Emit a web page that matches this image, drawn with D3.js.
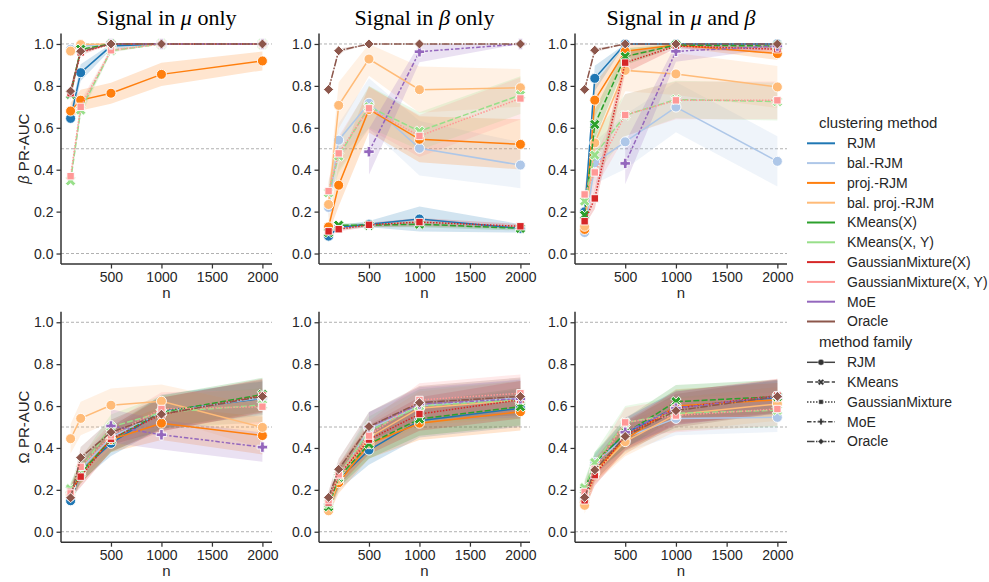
<!DOCTYPE html>
<html>
<head>
<meta charset="utf-8">
<script src="https://cdn.jsdelivr.net/npm/d3@7"></script>
<style>
  body { margin: 0; background: #fff; }
  text { font-family: "Liberation Sans", Arial, sans-serif; fill: #262626; }
</style>
</head>
<body>
<svg id="chart" width="989" height="582"></svg>
<script>
// ---- data ----
const nValues = [100, 200, 500, 1000, 2000];
const methods = ["RJM", "bal.-RJM", "proj.-RJM", "bal. proj.-RJM", "KMeans(X)", "KMeans(X, Y)",
                 "GaussianMixture(X)", "GaussianMixture(X, Y)", "MoE", "Oracle"];
const methodColors = ["#1f77b4", "#aec7e8", "#ff7f0e", "#ffbb78", "#2ca02c", "#98df8a",
                      "#d62728", "#ff9896", "#9467bd", "#8c564b"];
const methodFamily = ["RJM", "RJM", "RJM", "RJM", "KMeans", "KMeans",
                      "GaussianMixture", "GaussianMixture", "MoE", "Oracle"];
const families = ["RJM", "KMeans", "GaussianMixture", "MoE", "Oracle"];
const yTicks = [0, 0.2, 0.4, 0.6, 0.8, 1.0];
const xTicks = [500, 1000, 1500, 2000];
const refLines = [0, 0.5, 1.0];

// beta PR-AUC, signal in mu only (rows follow `methods`, columns follow `nValues`)
const betaMuOnly = [
  [0.645, 0.863, 0.99, 1.0, 1.0],
  [0.975, 0.99, 1.0, 1.0, 1.0],
  [0.68, 0.732, 0.765, 0.855, 0.919],
  [0.966, 0.997, 1.0, 1.0, 1.0],
  [0.76, 0.975, 1.0, 1.0, 1.0],
  [0.347, 0.685, 0.968, 1.0, 1.0],
  [0.765, 0.96, 1.0, 1.0, 1.0],
  [0.369, 0.70, 0.97, 1.0, 1.0],
  [null, null, 1.0, 1.0, 1.0],
  [0.775, 0.965, 1.0, 1.0, 1.0]
];
const betaMuOnlyCI = [
  [0.03, 0.04, 0.015, 0, 0],
  [0.02, 0.01, 0, 0, 0],
  [0.04, 0.05, 0.05, 0.055, 0.045],
  [0.02, 0.005, 0, 0, 0],
  [0.03, 0.01, 0, 0, 0],
  [0.02, 0.03, 0.01, 0, 0],
  [0.03, 0.015, 0, 0, 0],
  [0.02, 0.03, 0.01, 0, 0],
  [0, 0, 0, 0, 0],
  [0.02, 0.01, 0, 0, 0]
];

// beta PR-AUC, signal in beta only
const betaBetaOnly = [
  [0.083, 0.125, 0.14, 0.165, 0.12],
  [0.22, 0.541, 0.717, 0.502, 0.422],
  [0.127, 0.326, 0.688, 0.545, 0.521],
  [0.234, 0.707, 0.928, 0.782, 0.791],
  [0.10, 0.135, 0.135, 0.14, 0.12],
  [0.29, 0.465, 0.70, 0.584, 0.756],
  [0.106, 0.116, 0.137, 0.15, 0.13],
  [0.298, 0.478, 0.693, 0.561, 0.74],
  [null, null, 0.486, 0.963, 1.0],
  [0.783, 0.968, 1.0, 1.0, 1.0]
];
const betaBetaOnlyCI = [
  [0.01, 0.01, 0.015, 0.06, 0.02],
  [0.06, 0.08, 0.12, 0.13, 0.11],
  [0.03, 0.10, 0.11, 0.11, 0.12],
  [0.07, 0.11, 0.08, 0.11, 0.09],
  [0.01, 0.01, 0.01, 0.015, 0.01],
  [0.05, 0.08, 0.10, 0.09, 0.09],
  [0.01, 0.01, 0.01, 0.02, 0.01],
  [0.05, 0.08, 0.10, 0.10, 0.10],
  [0, 0, 0.11, 0.05, 0],
  [0.01, 0.01, 0, 0, 0]
];

// beta PR-AUC, signal in mu and beta
const betaBoth = [
  [0.199, 0.836, 1.0, 1.0, 1.0],
  [0.10, 0.433, 0.533, 0.699, 0.44],
  [0.115, 0.732, 0.965, 0.995, 0.954],
  [0.13, 0.528, 0.874, 0.857, 0.795],
  [0.183, 0.616, 0.94, 0.995, 0.99],
  [0.25, 0.47, 0.66, 0.735, 0.725],
  [0.154, 0.263, 0.911, 0.99, 0.975],
  [0.282, 0.387, 0.661, 0.731, 0.731],
  [null, null, 0.43, 0.965, 0.99],
  [0.783, 0.97, 1.0, 1.0, 1.0]
];
const betaBothCI = [
  [0.03, 0.06, 0, 0, 0],
  [0.02, 0.10, 0.13, 0.12, 0.12],
  [0.02, 0.08, 0.03, 0.01, 0.03],
  [0.03, 0.10, 0.10, 0.10, 0.10],
  [0.03, 0.07, 0.04, 0.01, 0.01],
  [0.05, 0.10, 0.10, 0.09, 0.09],
  [0.02, 0.05, 0.05, 0.01, 0.02],
  [0.05, 0.08, 0.10, 0.09, 0.09],
  [0, 0, 0.10, 0.05, 0.01],
  [0.01, 0.01, 0, 0, 0]
];

// Omega PR-AUC, signal in mu only
const omegaMuOnly = [
  [0.148, 0.29, 0.422, 0.575, 0.637],
  [0.17, 0.30, 0.45, 0.57, 0.64],
  [0.18, 0.28, 0.44, 0.518, 0.459],
  [0.444, 0.541, 0.604, 0.623, 0.498],
  [0.20, 0.28, 0.44, 0.57, 0.655],
  [0.205, 0.30, 0.50, 0.57, 0.605],
  [0.19, 0.263, 0.443, 0.56, 0.65],
  [0.183, 0.31, 0.46, 0.586, 0.597],
  [null, null, 0.505, 0.463, 0.404],
  [0.162, 0.354, 0.475, 0.561, 0.646]
];
const omegaMuOnlyCI = [
  [0.03, 0.05, 0.06, 0.08, 0.08],
  [0.03, 0.05, 0.06, 0.08, 0.08],
  [0.03, 0.05, 0.06, 0.08, 0.09],
  [0.07, 0.08, 0.08, 0.08, 0.10],
  [0.03, 0.05, 0.06, 0.08, 0.08],
  [0.03, 0.05, 0.06, 0.08, 0.08],
  [0.03, 0.05, 0.06, 0.08, 0.08],
  [0.03, 0.05, 0.06, 0.08, 0.08],
  [0, 0, 0.08, 0.07, 0.07],
  [0.03, 0.05, 0.06, 0.08, 0.08]
];

// Omega PR-AUC, signal in beta only
const omegaBetaOnly = [
  [0.12, 0.25, 0.39, 0.53, 0.59],
  [0.12, 0.26, 0.49, 0.60, 0.64],
  [0.11, 0.234, 0.42, 0.518, 0.573],
  [0.10, 0.25, 0.45, 0.59, 0.63],
  [0.12, 0.26, 0.419, 0.538, 0.597],
  [0.135, 0.27, 0.48, 0.60, 0.63],
  [0.14, 0.27, 0.44, 0.562, 0.63],
  [0.15, 0.274, 0.459, 0.629, 0.661],
  [null, null, 0.50, 0.61, 0.635],
  [0.164, 0.298, 0.502, 0.616, 0.646]
];
const omegaBetaOnlyCI = [
  [0.03, 0.05, 0.07, 0.08, 0.09],
  [0.03, 0.05, 0.08, 0.08, 0.09],
  [0.03, 0.05, 0.07, 0.08, 0.09],
  [0.03, 0.05, 0.07, 0.08, 0.09],
  [0.03, 0.05, 0.07, 0.08, 0.09],
  [0.03, 0.05, 0.07, 0.08, 0.09],
  [0.03, 0.05, 0.07, 0.08, 0.09],
  [0.03, 0.05, 0.07, 0.08, 0.09],
  [0, 0, 0.07, 0.08, 0.09],
  [0.03, 0.05, 0.07, 0.08, 0.09]
];

// Omega PR-AUC, signal in mu and beta
const omegaBoth = [
  [0.16, 0.32, 0.47, 0.595, 0.64],
  [0.15, 0.33, 0.45, 0.541, 0.546],
  [0.14, 0.29, 0.44, 0.60, 0.63],
  [0.126, 0.28, 0.43, 0.56, 0.61],
  [0.20, 0.33, 0.47, 0.621, 0.645],
  [0.21, 0.33, 0.52, 0.565, 0.58],
  [0.15, 0.27, 0.46, 0.59, 0.65],
  [0.19, 0.30, 0.522, 0.555, 0.586],
  [null, null, 0.475, 0.59, 0.645],
  [0.164, 0.295, 0.455, 0.578, 0.646]
];
const omegaBothCI = [
  [0.04, 0.05, 0.07, 0.08, 0.08],
  [0.04, 0.05, 0.07, 0.08, 0.07],
  [0.04, 0.05, 0.07, 0.08, 0.08],
  [0.04, 0.05, 0.07, 0.08, 0.08],
  [0.04, 0.05, 0.07, 0.08, 0.08],
  [0.04, 0.05, 0.08, 0.08, 0.08],
  [0.04, 0.05, 0.07, 0.08, 0.08],
  [0.04, 0.05, 0.07, 0.08, 0.08],
  [0, 0, 0.07, 0.08, 0.08],
  [0.04, 0.05, 0.07, 0.08, 0.08]
];

// ---- layout ----
const svg = d3.select("#chart");
const columns = [[61, 272], [319, 530], [575, 787]];
const rows = [[264, 33.5], [542.2, 311.8]];
const titles = [
  [{t: "Signal in "}, {t: "\u03bc", i: true}, {t: " only"}],
  [{t: "Signal in "}, {t: "\u03b2", i: true}, {t: " only"}],
  [{t: "Signal in "}, {t: "\u03bc", i: true}, {t: " and "}, {t: "\u03b2", i: true}]
];
const yLabels = [
  [{t: "\u03b2", i: true}, {t: " PR-AUC"}],
  [{t: "\u03a9"}, {t: " PR-AUC"}]
];
const panels = [
  {row: 0, col: 0, mean: betaMuOnly, ci: betaMuOnlyCI},
  {row: 0, col: 1, mean: betaBetaOnly, ci: betaBetaOnlyCI},
  {row: 0, col: 2, mean: betaBoth, ci: betaBothCI},
  {row: 1, col: 0, mean: omegaMuOnly, ci: omegaMuOnlyCI},
  {row: 1, col: 1, mean: omegaBetaOnly, ci: omegaBetaOnlyCI},
  {row: 1, col: 2, mean: omegaBoth, ci: omegaBothCI}
];

const familyDash = {
  RJM: null,
  KMeans: "6,2.25",
  GaussianMixture: "1.5,1.5",
  MoE: "4.5,1.9,2.25,1.9",
  Oracle: "7.5,1.5,1.5,1.5"
};

// filled cross polygon (arm half-length a, half-width w), optionally rotated
function crossPath(a, w, rot) {
  const pts = [[-w,-a],[w,-a],[w,-w],[a,-w],[a,w],[w,w],[w,a],[-w,a],[-w,w],[-a,w],[-a,-w],[-w,-w]];
  const c = Math.cos(rot), s = Math.sin(rot);
  return "M" + pts.map(([x, y]) => [x * c - y * s, x * s + y * c].map(v => v.toFixed(2)).join(",")).join("L") + "Z";
}
function markerPath(family, k) {
  switch (family) {
    case "RJM": {
      const r = 5 * k;
      return `M${r},0A${r},${r} 0 1,1 ${-r},0A${r},${r} 0 1,1 ${r},0Z`;
    }
    case "KMeans": return crossPath(5.6 * k, 1.8 * k, Math.PI / 4);
    case "GaussianMixture": { const h = 3.7 * k; return `M${-h},${-h}H${h}V${h}H${-h}Z`; }
    case "MoE": return crossPath(5.2 * k, 1.8 * k, 0);
    case "Oracle": { const r = 5 * k; return `M0,${-r}L${r},0L0,${r}L${-r},0Z`; }
  }
}

function addRich(sel, parts) {
  parts.forEach(p => {
    const ts = sel.append("tspan").text(p.t);
    if (p.i) ts.attr("font-style", "italic");
  });
}

// titles
titles.forEach((parts, c) => {
  const t = svg.append("text")
    .attr("x", (columns[c][0] + columns[c][1]) / 2)
    .attr("y", 25)
    .attr("text-anchor", "middle")
    .style("font-family", "'Liberation Serif', 'Times New Roman', serif")
    .style("font-size", "22px")
    .style("fill", "#000");
  addRich(t, parts);
});

panels.forEach(p => {
  const x = d3.scaleLinear().domain([5, 2095]).range(columns[p.col]);
  const y = d3.scaleLinear().domain([-0.05, 1.05]).range(rows[p.row]);
  const g = svg.append("g");

  // dashed reference lines
  g.selectAll(".ref").data(refLines).join("line")
    .attr("x1", x.range()[0]).attr("x2", x.range()[1])
    .attr("y1", d => y(d)).attr("y2", d => y(d))
    .attr("stroke", "#b0b0b0").attr("stroke-width", 1).attr("stroke-dasharray", "3,2");

  // confidence bands
  p.mean.forEach((vals, i) => {
    const pts = nValues.map((n, j) => ({n, m: vals[j], c: p.ci[i][j]})).filter(d => d.m !== null);
    const area = d3.area()
      .x(d => x(d.n))
      .y0(d => y(Math.max(0, d.m - d.c)))
      .y1(d => y(Math.min(1, d.m + d.c)));
    g.append("path").attr("d", area(pts))
      .attr("fill", methodColors[i]).attr("fill-opacity", 0.2).attr("stroke", "none");
  });

  // lines with markers
  p.mean.forEach((vals, i) => {
    const fam = methodFamily[i];
    const pts = nValues.map((n, j) => ({n, m: vals[j]})).filter(d => d.m !== null);
    const line = d3.line().x(d => x(d.n)).y(d => y(d.m));
    g.append("path").attr("d", line(pts))
      .attr("fill", "none").attr("stroke", methodColors[i]).attr("stroke-width", 1.5)
      .attr("stroke-dasharray", familyDash[fam]);
    g.selectAll(null).data(pts).join("path")
      .attr("transform", d => `translate(${x(d.n)},${y(d.m)})`)
      .attr("d", markerPath(fam, 1))
      .attr("fill", methodColors[i]).attr("stroke", "#fff").attr("stroke-width", 0.9);
  });

  // axes
  const yAxis = d3.axisLeft(y).tickValues(yTicks).tickFormat(d3.format(".1f")).tickSize(4.5).tickPadding(3);
  const xAxis = d3.axisBottom(x).tickValues(xTicks).tickFormat(d3.format("d")).tickSize(4.5).tickPadding(3.5);
  const ya = g.append("g").attr("transform", `translate(${x.range()[0]},0)`).call(yAxis);
  const xa = g.append("g").attr("transform", `translate(0,${y.range()[0]})`).call(xAxis);
  [ya, xa].forEach(a => {
    a.select(".domain").attr("stroke", "#333").attr("stroke-width", 1.5);
    a.selectAll(".tick line").attr("stroke", "#333").attr("stroke-width", 1.25);
    a.selectAll(".tick text").style("font-size", "14px").style("font-family", "'Liberation Sans', Arial, sans-serif").attr("fill", "#262626");
  });
  ya.select(".domain").attr("d", `M0,${y.range()[0]}V${y.range()[1]}`);
  xa.select(".domain").attr("d", `M${x.range()[0]},0H${x.range()[1]}`);

  // x label
  g.append("text")
    .attr("x", (x.range()[0] + x.range()[1]) / 2)
    .attr("y", y.range()[0] + 34)
    .attr("text-anchor", "middle")
    .style("font-size", "15px").text("n");

  // y label (first column only)
  if (p.col === 0) {
    const cy = (y(0) + y(1)) / 2;
    const t = g.append("text")
      .attr("transform", `translate(29,${cy}) rotate(-90)`)
      .attr("text-anchor", "middle")
      .style("font-size", "15px");
    addRich(t, yLabels[p.row]);
  }
});

// ---- legend ----
const lg = svg.append("g");
const lx0 = 807, lx1 = 835, ltx = 847;
lg.append("text").attr("x", 819).attr("y", 123).attr("dy", "0.35em").style("font-size", "15px").text("clustering method");
methods.forEach((m, i) => {
  const yy = 143.3 + i * 19.8;
  lg.append("line").attr("x1", lx0).attr("x2", lx1).attr("y1", yy).attr("y2", yy)
    .attr("stroke", methodColors[i]).attr("stroke-width", 2);
  lg.append("text").attr("x", ltx).attr("y", yy).attr("dy", "0.35em").style("font-size", "14px").text(m);
});
lg.append("text").attr("x", 819).attr("y", 342).attr("dy", "0.35em").style("font-size", "15px").text("method family");
families.forEach((f, j) => {
  const yy = 362.3 + j * 19.8;
  lg.append("line").attr("x1", lx0).attr("x2", lx1).attr("y1", yy).attr("y2", yy)
    .attr("stroke", "#444").attr("stroke-width", 1.5).attr("stroke-dasharray", familyDash[f]);
  lg.append("path").attr("transform", `translate(${(lx0 + lx1) / 2},${yy})`)
    .attr("d", markerPath(f, 0.6)).attr("fill", "#333").attr("stroke", "#fff").attr("stroke-width", 0.4);
  lg.append("text").attr("x", ltx).attr("y", yy).attr("dy", "0.35em").style("font-size", "14px").text(f);
});
</script>
</body>
</html>
